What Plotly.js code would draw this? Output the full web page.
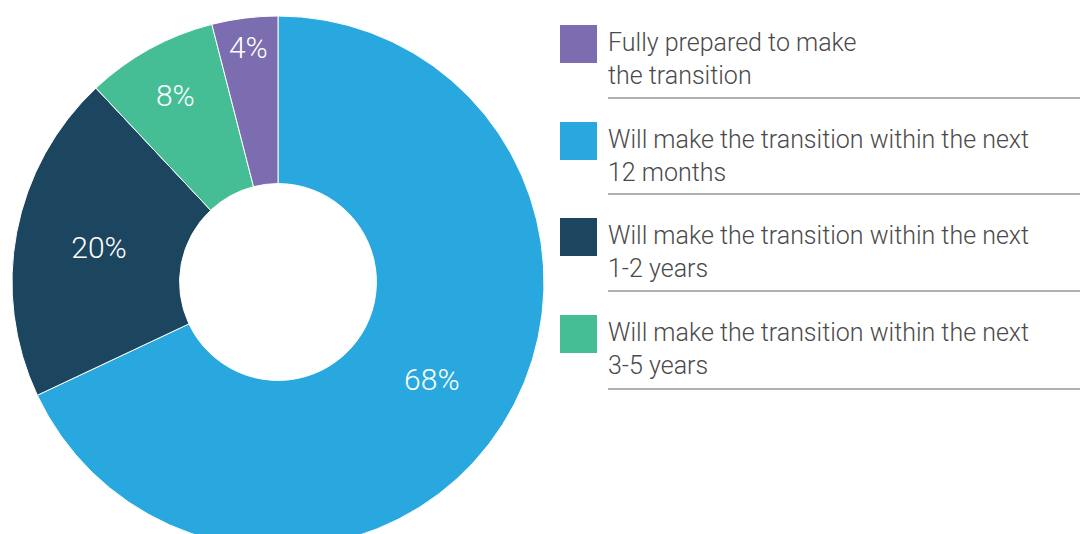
<!DOCTYPE html>
<html>
<head>
<meta charset="utf-8">
<script src="https://cdn.plot.ly/plotly-3.0.1.min.js"></script>
<style>
  html, body { margin: 0; padding: 0; overflow: hidden; background: #ffffff; }
  #chart { width: 1083px; height: 564px; }
</style>
</head>
<body>
<div id="chart"></div>
<script>
// Data (pie order, clockwise from 12 o'clock)
const sliceLabels = [
  "Will make the transition within the next 12 months",
  "Will make the transition within the next 1-2 years",
  "Will make the transition within the next 3-5 years",
  "Fully prepared to make the transition"
];
const sliceValues = [68, 20, 8, 4];
const sliceColors = ["#29A8E0", "#1C465F", "#46BE95", "#7B6DB0"];

// Legend (display order)
const legendLabels = [
  "Fully prepared to make<br>the transition",
  "Will make the transition within the next<br>12 months",
  "Will make the transition within the next<br>1-2 years",
  "Will make the transition within the next<br>3-5 years"
];
const legendColors = ["#7B6DB0", "#29A8E0", "#1C465F", "#46BE95"];

const W = 1083, H = 564;
const px = v => v / W;
const py = v => 1 - v / H;
const FONT = "Roboto, 'Liberation Sans', Arial, sans-serif";

const trace = {
  type: "pie",
  values: sliceValues,
  labels: sliceLabels,
  sort: false,
  direction: "clockwise",
  rotation: 0,
  hole: 0.37,
  marker: { colors: sliceColors, line: { color: "#ffffff", width: 1 } },
  texttemplate: "%{value}%",
  textposition: "inside",
  insidetextorientation: "horizontal",
  textfont: { family: FONT, size: 30, color: "#ffffff", weight: 300 },
  hoverinfo: "label+percent",
  showlegend: false,
  domain: { x: [px(12), px(544)], y: [py(548), py(16)] }
};

const shapes = [];
const annotations = [];
const itemTop = [25, 122, 218, 315];
const lineY = [98, 194, 291, 389];
legendLabels.forEach((lab, i) => {
  const t = itemTop[i];
  shapes.push({
    type: "rect", xref: "paper", yref: "paper",
    x0: px(560), x1: px(597), y0: py(t + 38), y1: py(t),
    fillcolor: legendColors[i], line: { width: 0 }
  });
  shapes.push({
    type: "line", xref: "paper", yref: "paper",
    x0: px(608), x1: px(1080), y0: py(lineY[i]), y1: py(lineY[i]),
    line: { color: "#b0b0b0", width: 2 }
  });
  annotations.push({
    xref: "paper", yref: "paper",
    x: px(606), y: py(t + 1),
    xanchor: "left", yanchor: "top",
    align: "left", showarrow: false,
    text: lab,
    font: { family: FONT, size: 25, color: "#4a4a4a", weight: 300 }
  });
});

const layout = {
  width: W, height: H,
  margin: { l: 0, r: 0, t: 0, b: 0 },
  paper_bgcolor: "#ffffff",
  plot_bgcolor: "#ffffff",
  uniformtext: { mode: "show", minsize: 30 },
  shapes: shapes,
  annotations: annotations
};

Plotly.newPlot("chart", [trace], layout, { displayModeBar: false, staticPlot: true });
</script>
</body>
</html>
